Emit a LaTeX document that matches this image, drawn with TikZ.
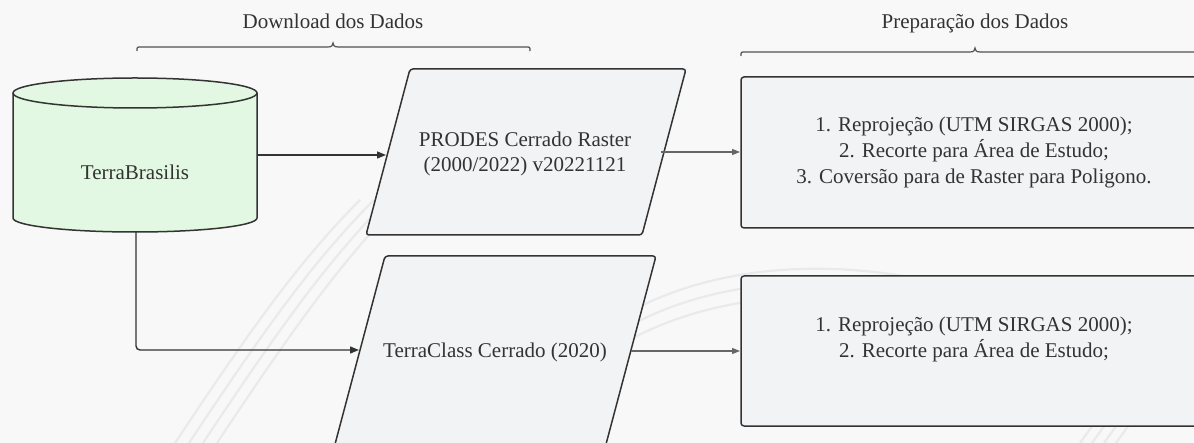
\documentclass[tikz,border=0pt]{standalone}
\usepackage{fontspec}
\setmainfont{Liberation Serif}
\usetikzlibrary{arrows.meta}
\definecolor{bg}{HTML}{F8F8F8}
\definecolor{ink}{HTML}{333333}
\definecolor{cylfill}{HTML}{E2F8E2}
\definecolor{boxfill}{HTML}{F2F3F5}
\definecolor{arrowgray}{HTML}{666666}
\definecolor{wm}{HTML}{EAEAEA}
\tikzset{
  shapeline/.style={draw=ink, line width=1.5pt, line join=round},
  cylshape/.style={shapeline, fill=cylfill},
  parashape/.style={shapeline, fill=boxfill, rounded corners=3pt},
  boxshape/.style={shapeline, fill=boxfill, rounded corners=3pt},
  label/.style={text=ink, font=\fontsize{21}{26}\selectfont, align=center, inner sep=0pt},
  conn/.style={draw=ink, line width=1.4pt, -{Triangle[length=9pt,width=7pt]}},
  connlight/.style={draw=arrowgray, line width=1.1pt, -{Triangle[length=8pt,width=6pt]}},
  bracestyle/.style={draw=ink!85, line width=1.2pt},
  watermark/.style={draw=wm, line width=2.2pt}
}
\begin{document}
\begin{tikzpicture}[x=1pt,y=-1pt]
\useasboundingbox (0,0) rectangle (1194,443);
\clip (0,0) rectangle (1194,443);
\fill[bg] (0,0) rectangle (1194,443);
% faint watermark
\foreach \d in {0,14,28,42}{
  \draw[watermark] (175+\d,443) .. controls (250+\d,330) and (300+\d,260) .. (360+\d,200);
}
\foreach \d in {0,14,28}{
  \draw[watermark] (600,330+\d) .. controls (700,260+\d) and (850,250+\d) .. (1000,300+\d);
}
\foreach \d in {0,12,24,36}{
  \draw[watermark] (1080+\d,443) -- (1100+\d,415);
}
% braces
\node[label] (dl) at (333,21) {Download dos Dados};
\draw[bracestyle] (137,51) .. controls (137,47) .. (141,47) -- (328,47)
  .. controls (332,47) and (333,45) .. (333,43)
  .. controls (333,45) and (334,47) .. (338,47) -- (526,47) .. controls (530,47) .. (530,51);
\node[label] (prep) at (975,23) {Preparação dos Dados};
\draw[bracestyle] (741,56) .. controls (741,52) .. (745,52) -- (970,52)
  .. controls (974,52) and (975,50) .. (975,48)
  .. controls (975,50) and (976,52) .. (980,52) -- (1205,52) .. controls (1209,52) .. (1209,56);
% cylinder
\path[cylshape] (13,93) -- (13,218) arc[start angle=180, end angle=0, x radius=122, y radius=14]
  -- (257,93) arc[start angle=0, end angle=-180, x radius=122, y radius=15] -- cycle;
\draw[shapeline] (13,93) arc[start angle=180, end angle=0, x radius=122, y radius=15];
\node[label] (tb) at (135,172) {TerraBrasilis};
\coordinate (cylR) at (257,155);
\coordinate (cylB) at (136,232);
% parallelogram 1
\path[parashape] (410,69) -- (686,69) -- (642,235) -- (366,235) -- cycle;
\node[label, font=\fontsize{21}{25}\selectfont] (prodes) at (525,154) {PRODES Cerrado Raster\\(2000/2022) v20221121};
\coordinate (p1L) at (386,155);
\coordinate (p1R) at (661,152);
% parallelogram 2
\path[parashape] (385,256) -- (656,256) -- (605,448) -- (334,448) -- cycle;
\node[label] (tc) at (495,352) {TerraClass Cerrado (2020)};
\coordinate (p2L) at (359,350);
\coordinate (p2R) at (631,351);
% boxes
\path[boxshape] (741,77) rectangle (1207,228);
\node[label] (prep1) at (974,152) {1. Reprojeção (UTM SIRGAS 2000);\\2. Recorte para Área de Estudo;\\3. Coversão para de Raster para Poligono.};
\coordinate (b1L) at (740,152);
\path[boxshape] (741,276) rectangle (1207,426);
\node[label] (prep2) at (974,339) {1. Reprojeção (UTM SIRGAS 2000);\\2. Recorte para Área de Estudo;};
\coordinate (b2L) at (740,351);
% connectors
\draw[conn] (cylR) -- (p1L);
\draw[conn, rounded corners=4pt] (cylB) |- (p2L);
\draw[connlight] (p1R) -- (b1L);
\draw[connlight] (p2R) -- (b2L);
\end{tikzpicture}
\end{document}
